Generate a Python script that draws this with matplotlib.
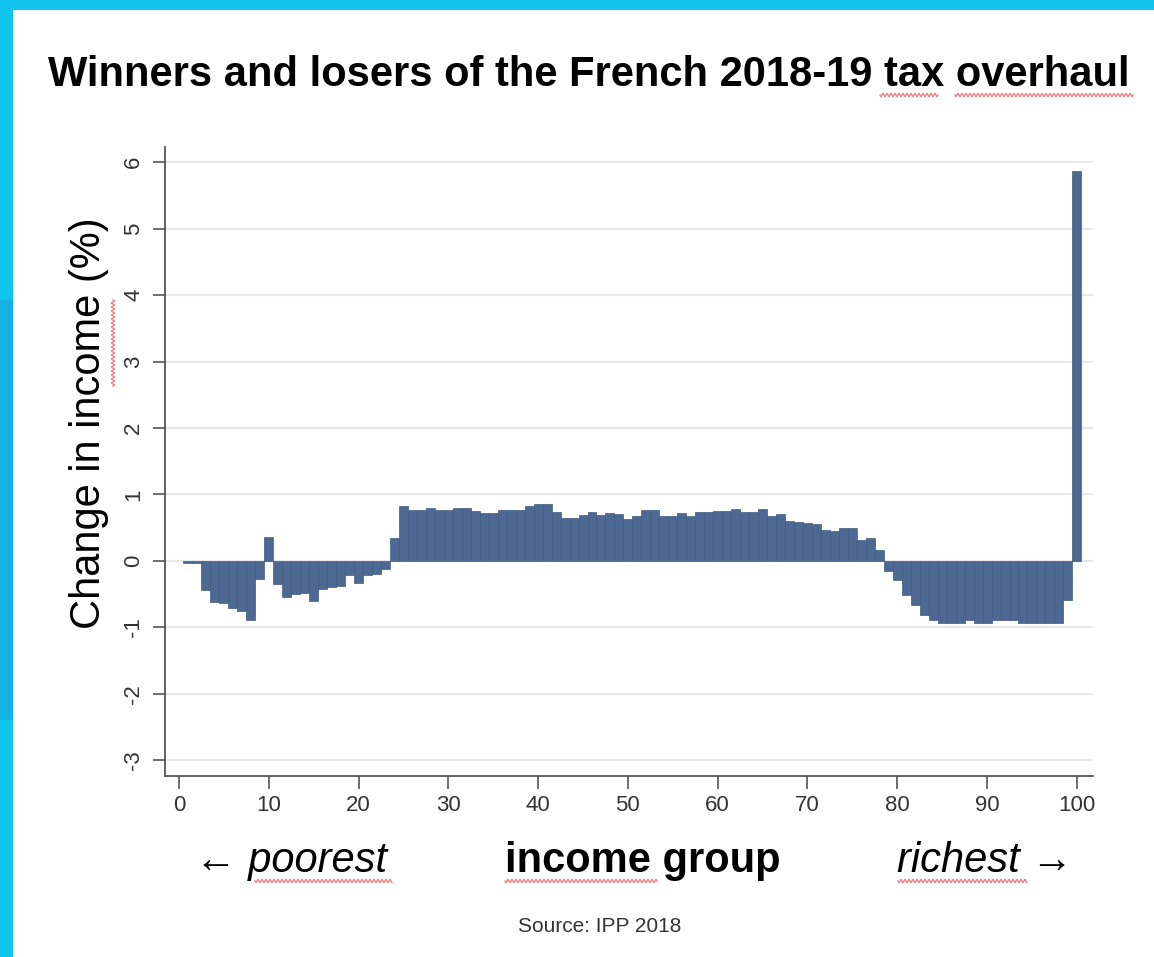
import numpy as np
import matplotlib
matplotlib.use("Agg")
import matplotlib.pyplot as plt
from matplotlib.lines import Line2D
from matplotlib.patches import Rectangle

# ---------------- data ----------------
percentiles = list(range(1, 101))
change_pct = [
    -0.03, -0.03, -0.44, -0.62, -0.64, -0.71, -0.76, -0.89, -0.28, 0.36,
    -0.35, -0.54, -0.50, -0.49, -0.61, -0.42, -0.40, -0.38, -0.22, -0.34,
    -0.22, -0.20, -0.12, 0.34, 0.82, 0.77, 0.77, 0.79, 0.77, 0.77,
    0.79, 0.79, 0.75, 0.72, 0.72, 0.77, 0.77, 0.77, 0.82, 0.86,
    0.86, 0.74, 0.64, 0.64, 0.69, 0.74, 0.69, 0.72, 0.70, 0.63,
    0.68, 0.76, 0.76, 0.68, 0.68, 0.72, 0.68, 0.74, 0.74, 0.75,
    0.75, 0.78, 0.74, 0.74, 0.78, 0.68, 0.71, 0.60, 0.58, 0.57,
    0.55, 0.46, 0.45, 0.50, 0.50, 0.31, 0.34, 0.16, -0.16, -0.29,
    -0.51, -0.66, -0.81, -0.89, -0.93, -0.93, -0.93, -0.89, -0.93, -0.93,
    -0.89, -0.89, -0.89, -0.94, -0.94, -0.94, -0.94, -0.93, -0.59, 5.87,
]
x_ticks = [0, 10, 20, 30, 40, 50, 60, 70, 80, 90, 100]
x_ticklabels = ["0", "10", "20", "30", "40", "50", "60", "70", "80", "90", "100"]
y_ticks = [-3, -2, -1, 0, 1, 2, 3, 4, 5, 6]
y_ticklabels = ["-3", "-2", "-1", "0", "1", "2", "3", "4", "5", "6"]

title = "Winners and losers of the French 2018-19 tax overhaul"
ylabel = "Change in income (%)"
left_note = "\u2190 poorest"
center_note = "income group"
right_note = "richest \u2192"
source = "Source: IPP 2018"

# ---------------- figure ----------------
W, H = 1154, 957
fig = plt.figure(figsize=(W / 100, H / 100), dpi=100)
fig.patch.set_facecolor("white")
plt.rcParams["font.family"] = ["Liberation Sans", "DejaVu Sans"]

def fx(px):
    return px / W

def fy(py):
    return 1 - py / H

# cyan frame (slide background)
fig.add_artist(Rectangle((0, fy(10)), 1, 10 / H, transform=fig.transFigure,
                         facecolor="#12c5ee", edgecolor="none", zorder=0))
fig.add_artist(Rectangle((0, 0), fx(13), 1, transform=fig.transFigure,
                         facecolor="#12c5ee", edgecolor="none", zorder=0))
fig.add_artist(Rectangle((0, fy(720)), fx(13), (720 - 300) / H, transform=fig.transFigure,
                         facecolor="#1aa6dc", edgecolor="none", zorder=0, alpha=0.6))

ax = fig.add_axes([fx(165), fy(776), fx(1093) - fx(165), (776 - 147) / H])
ax.set_facecolor("white")

ax.bar(percentiles, change_pct, width=1.0, color="#4d6993",
       edgecolor="#3f5a82", linewidth=0.5, zorder=3)

ax.set_xlim(-1.56, 101.8)
ax.set_ylim(-3.24, 6.23)

ax.set_xticks(x_ticks)
ax.set_xticklabels(x_ticklabels, fontsize=16, color="#333333")
ax.set_yticks(y_ticks)
ax.set_yticklabels(y_ticklabels, fontsize=16, color="#333333",
                   rotation=90, va="center")

ax.yaxis.grid(True, color="#e8e8e8", linewidth=1.6, zorder=0)
ax.xaxis.grid(False)
ax.set_axisbelow(True)

for s in ["top", "right"]:
    ax.spines[s].set_visible(False)
for s in ["left", "bottom"]:
    ax.spines[s].set_color("#555555")
    ax.spines[s].set_linewidth(1.3)

ax.tick_params(axis="both", direction="out", length=9, width=1.2,
               color="#555555")
ax.tick_params(axis="x", pad=5)
ax.tick_params(axis="y", pad=6)

# titles and notes
fig.text(fx(48), fy(86), title, fontsize=30, fontweight="bold",
         ha="left", va="baseline", color="black")
fig.text(fx(89), fy(423), ylabel, fontsize=30, rotation=90,
         ha="center", va="center", color="black")
fig.text(fx(195), fy(872), left_note, fontsize=30, style="italic",
         ha="left", va="baseline", color="black",
         family=["Liberation Sans", "DejaVu Sans"])
fig.text(fx(643), fy(872), center_note, fontsize=30, fontweight="bold",
         ha="center", va="baseline", color="black")
fig.text(fx(1073), fy(872), right_note, fontsize=30, style="italic",
         ha="right", va="baseline", color="black",
         family=["Liberation Sans", "DejaVu Sans"])
fig.text(fx(600), fy(927), source, fontsize=15,
         ha="center", va="center", color="#333333")

# spell-check wavy underlines (screenshot artefact)
def wavy(x0, x1, y, vertical=False):
    n = int(abs(x1 - x0))
    t = np.linspace(x0, x1, max(n, 2) * 2)
    w = 1.6 * np.sin((t - x0) * np.pi / 2.0)
    if vertical:
        xs, ys = y + w, t
    else:
        xs, ys = t, y + w
    fig.add_artist(Line2D(np.array(xs) / W, 1 - np.array(ys) / H,
                          transform=fig.transFigure, color="#e06a6a",
                          linewidth=1.0, alpha=0.8))

wavy(880, 938, 95)
wavy(955, 1133, 95)
wavy(300, 386, 113, vertical=True)
wavy(255, 392, 881)
wavy(505, 657, 881)
wavy(898, 1027, 881)

fig.savefig("out.png", dpi=100)
